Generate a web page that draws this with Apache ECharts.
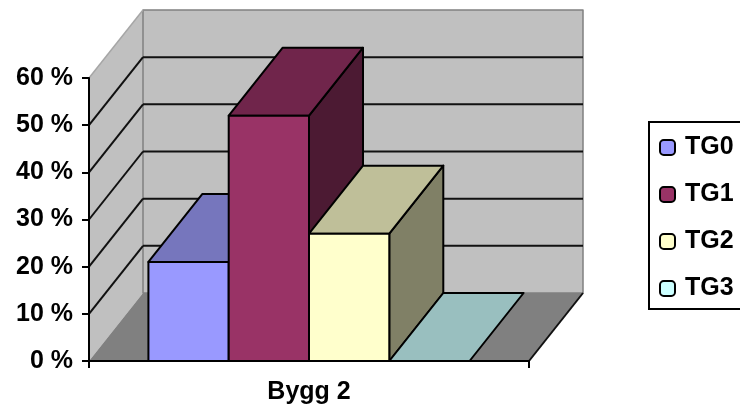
<!DOCTYPE html>
<html>
<head>
<meta charset="utf-8">
<style>html,body{margin:0;padding:0;background:#fff;overflow:hidden}#c{width:740px;height:410px}</style>
<script src="https://cdn.jsdelivr.net/npm/echarts@6/dist/echarts.min.js"></script>
</head>
<body>
<div id="c"></div>
<script>
// Chart data
const categories = ['Bygg 2'];
const seriesNames = ['TG0', 'TG1', 'TG2', 'TG3'];
const seriesValues = [21, 52, 27, 0];
const gridTicks = [0, 10, 20, 30, 40, 50, 60];

// Shades for the three visible faces of each column
const frontColors = ['#9999FF', '#993366', '#FFFFCC', '#CCFFFF'];
const topColors = ['#7676BD', '#70254B', '#BFBF99', '#99BFBF'];
const sideColors = ['#4D4D80', '#4C1A33', '#808066', '#668080'];

// Oblique projection: how far the back plane is shifted from the front plane
const DEPTH_X = 54;
const DEPTH_Y = -68;
const GAP_RATIO = 0.74; // gap on each side of the cluster, in column widths
const EDGE = '#000';

const font = 'Liberation Sans, Arial, sans-serif';

function poly(points, fill, stroke, lineWidth) {
  return {
    type: 'polygon',
    shape: { points },
    style: { fill, stroke: stroke || null, lineWidth: lineWidth || 0, lineJoin: 'round' }
  };
}
function seg(a, b, stroke, lineWidth) {
  return {
    type: 'line',
    shape: { x1: a[0], y1: a[1], x2: b[0], y2: b[1] },
    style: { stroke, lineWidth }
  };
}

// Side wall, back wall, floor and their gridlines
function renderWalls(params, api) {
  const band = api.size([1, 0])[0];
  const cx = api.coord([0, 0])[0];
  const left = cx - band / 2;
  const right = cx + band / 2;
  const yOf = v => api.coord([0, v])[1];
  const y0 = yOf(gridTicks[0]);
  const yTop = yOf(gridTicks[gridTicks.length - 1]);
  const wallEdge = '#808080';
  const children = [
    poly([[left, y0], [left + DEPTH_X, y0 + DEPTH_Y], [left + DEPTH_X, yTop + DEPTH_Y], [left, yTop]], '#C0C0C0'),
    poly([[left + DEPTH_X, y0 + DEPTH_Y], [right + DEPTH_X, y0 + DEPTH_Y], [right + DEPTH_X, yTop + DEPTH_Y], [left + DEPTH_X, yTop + DEPTH_Y]], '#C0C0C0', wallEdge, 1.5),
    seg([left, yTop], [left + DEPTH_X, yTop + DEPTH_Y], '#A6A6A6', 1.5)
  ];
  gridTicks.slice(1, -1).forEach(v => {
    const y = yOf(v);
    children.push(seg([left, y], [left + DEPTH_X, y + DEPTH_Y], '#111', 2));
    children.push(seg([left + DEPTH_X, y + DEPTH_Y], [right + DEPTH_X, y + DEPTH_Y], '#111', 2));
  });
  children.push(poly([[left, y0], [left + DEPTH_X, y0 + DEPTH_Y], [right + DEPTH_X, y0 + DEPTH_Y], [right, y0]], '#808080'));
  children.push(seg([right, y0], [right + DEPTH_X, y0 + DEPTH_Y], '#111', 2));
  return { type: 'group', children };
}

// One column of the cluster: front face, top face and right-hand face
function renderColumn(index) {
  return function (params, api) {
    const band = api.size([1, 0])[0];
    const cx = api.coord([api.value(0), 0])[0];
    const w = band / (seriesNames.length + 2 * GAP_RATIO);
    const x0 = cx - band / 2 + GAP_RATIO * w + index * w;
    const x1 = x0 + w;
    const yBase = api.coord([0, 0])[1];
    const yVal = api.coord([0, api.value(1)])[1];
    const dx = DEPTH_X, dy = DEPTH_Y;
    const children = [];
    if (yVal < yBase) {
      children.push(poly([[x1, yVal], [x1 + dx, yVal + dy], [x1 + dx, yBase + dy], [x1, yBase]], sideColors[index], EDGE, 2));
      children.push(poly([[x0, yVal], [x0 + dx, yVal + dy], [x1 + dx, yVal + dy], [x1, yVal]], topColors[index], EDGE, 2));
      children.push(poly([[x0, yVal], [x1, yVal], [x1, yBase], [x0, yBase]], frontColors[index], EDGE, 2));
    } else {
      children.push(poly([[x0, yVal], [x0 + dx, yVal + dy], [x1 + dx, yVal + dy], [x1, yVal]], topColors[index], EDGE, 2));
    }
    return { type: 'group', children };
  };
}

const columnSeries = seriesNames.map((name, i) => ({
  type: 'custom',
  name,
  coordinateSystem: 'cartesian2d',
  clip: false,
  z: 3 + i,
  legendIcon: 'rect',
  itemStyle: { color: frontColors[i], borderColor: EDGE, borderWidth: 2 },
  encode: { x: 0, y: 1 },
  data: [[0, seriesValues[i]]],
  renderItem: renderColumn(i)
}));

const chart = echarts.init(document.getElementById('c'), null, { renderer: 'canvas' });
chart.setOption({
  animation: false,
  backgroundColor: '#fff',
  grid: { left: 89, top: 78, width: 440, height: 283, containLabel: false },
  xAxis: {
    type: 'category',
    data: categories,
    z: 10,
    axisLine: { lineStyle: { color: EDGE, width: 2 } },
    axisTick: { show: true, length: 7, lineStyle: { color: EDGE, width: 2 } },
    axisLabel: { color: '#000', fontFamily: font, fontWeight: 'bold', fontSize: 25, margin: 19 }
  },
  yAxis: {
    type: 'value',
    min: 0,
    max: 60,
    interval: 10,
    z: 10,
    axisLine: { show: true, lineStyle: { color: EDGE, width: 2 } },
    axisTick: { show: true, length: 7, lineStyle: { color: EDGE, width: 2 } },
    splitLine: { show: false },
    axisLabel: {
      color: '#000', fontFamily: font, fontWeight: 'bold', fontSize: 25, margin: 16,
      padding: [3, 0, 0, 0],
      formatter: '{value} %'
    }
  },
  legend: {
    data: seriesNames,
    orient: 'vertical',
    left: 649,
    top: 122,
    padding: [13, 24, 8, 10],
    itemWidth: 15,
    itemHeight: 15,
    itemGap: 22,
    borderColor: EDGE,
    borderWidth: 2,
    selectedMode: false,
    textStyle: { color: '#000', fontFamily: font, fontWeight: 'bold', fontSize: 25, padding: [0, 0, 0, 5] }
  },
  series: [{
    type: 'custom',
    name: 'walls',
    coordinateSystem: 'cartesian2d',
    clip: false,
    z: 1,
    data: [[0, 0]],
    encode: { x: 0, y: 1 },
    silent: true,
    renderItem: renderWalls
  }].concat(columnSeries)
});
</script>
</body>
</html>
